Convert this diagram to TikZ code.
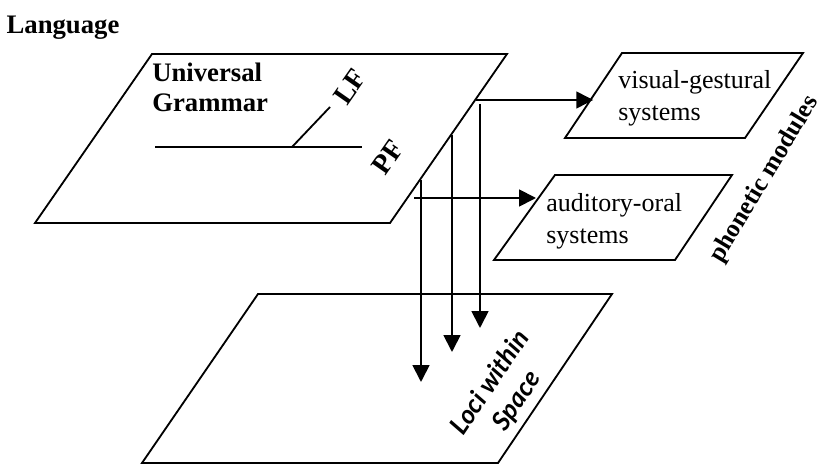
\documentclass[tikz,border=0pt]{standalone}
\usepackage{fontspec}
\setmainfont{Liberation Serif}
\newfontfamily\locifont{Lato}
\usetikzlibrary{arrows.meta}

\begin{document}
\begin{tikzpicture}[
    plane/.style={line width=1.3pt,line join=miter},
    txt/.style={font={\fontsize{18.5}{22.5}\selectfont},align=left,inner sep=0pt,anchor=west},
    heading/.style={font={\fontsize{19}{21}\selectfont\bfseries},align=left,inner sep=0pt},
    tag/.style={font={\fontsize{20}{22}\selectfont\bfseries},inner sep=0pt},
    flow/.style={line width=1.3pt,-{Triangle[length=12pt,width=12pt]}},
]
    \useasboundingbox (0,0) rectangle (20.625,11.6);

    % Title
    \node[heading] (lang) at (1.575,10.9) {Language};

    % Universal Grammar plane
    \draw[plane] (0.875,6.025) -- (3.8,10.25) -- (12.675,10.25) -- (9.75,6.025) -- cycle;
    \node[heading,anchor=west] (ug) at (3.8,9.41) {Universal\\Grammar};
    \coordinate (root) at (3.875,7.925);
    \coordinate (split) at (7.3,7.925);
    \coordinate (pfend) at (9.05,7.925);
    \coordinate (lfend) at (8.25,8.925);
    \draw[plane] (root) -- (pfend);
    \draw[plane] (split) -- (lfend);
    \node[tag,rotate=55] (lf) at (8.75,9.43) {LF};
    \node[tag,rotate=55] (pf) at (9.7,7.67) {PF};

    % Phonetic modules
    \draw[plane] (14.125,8.15) -- (15.55,10.275) -- (20.075,10.275) -- (18.625,8.15) -- cycle;
    \node[txt] (visual) at (15.45,9.15) {visual-gestural\\systems};
    \draw[plane] (12.35,5.1) -- (13.875,7.225) -- (18.3,7.225) -- (16.875,5.1) -- cycle;
    \node[txt] (auditory) at (13.65,6.075) {auditory-oral\\systems};
    \node[tag,rotate=59,font={\fontsize{18}{20}\selectfont\bfseries}] (modules) at (19.12,7.12) {phonetic modules};

    % Loci plane
    \draw[plane] (3.55,0.025) -- (6.45,4.25) -- (15.3,4.25) -- (12.45,0.025) -- cycle;
    \node[tag,rotate=56,align=center,font={\fontsize{18.5}{23}\selectfont\locifont\bfseries\itshape}] (loci) at (12.6,1.8) {Loci within\\Space};

    % Connectors
    \coordinate (outA) at (11.9,9.1);
    \coordinate (inA) at (14.83,9.1);
    \coordinate (outB) at (10.35,6.65);
    \coordinate (inB) at (13.4,6.65);
    \coordinate (dropA) at (12.0,9.0);
    \coordinate (landA) at (12.0,3.4);
    \coordinate (dropB) at (11.3,8.225);
    \coordinate (landB) at (11.3,2.8);
    \coordinate (dropC) at (10.525,7.1);
    \coordinate (landC) at (10.525,2.05);
    \draw[flow] (outA) -- (inA);
    \draw[flow] (outB) -- (inB);
    \draw[flow] (dropA) -- (landA);
    \draw[flow] (dropB) -- (landB);
    \draw[flow] (dropC) -- (landC);

\end{tikzpicture}
\end{document}
